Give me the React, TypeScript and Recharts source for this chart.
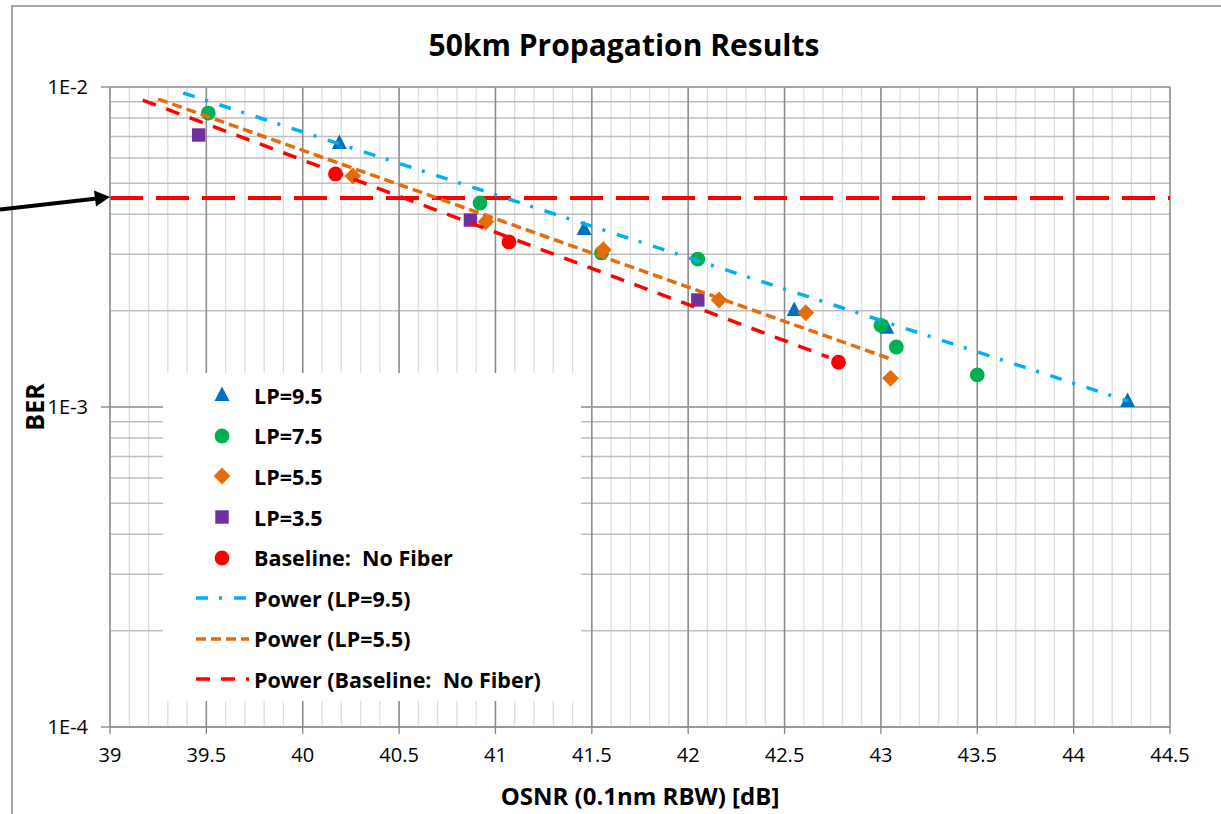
import React from 'react';
import {
  ScatterChart,
  Scatter,
  XAxis,
  YAxis,
  CartesianGrid,
  ReferenceLine,
  Legend,
} from 'recharts';

const FONT = '"Open Sans", Lato, sans-serif';

// measured points (OSNR dB, BER)
const lp95 = [
  { x: 40.19, y: 6.68e-3 },
  { x: 41.46, y: 3.6e-3 },
  { x: 42.55, y: 2.01e-3 },
  { x: 43.03, y: 1.77e-3 },
  { x: 44.28, y: 1.045e-3 },
];
const lp75 = [
  { x: 39.51, y: 8.29e-3 },
  { x: 40.92, y: 4.34e-3 },
  { x: 41.55, y: 3.03e-3 },
  { x: 42.05, y: 2.9e-3 },
  { x: 43.0, y: 1.8e-3 },
  { x: 43.08, y: 1.54e-3 },
  { x: 43.5, y: 1.26e-3 },
];
const lp55 = [
  { x: 40.26, y: 5.27e-3 },
  { x: 40.95, y: 3.79e-3 },
  { x: 41.56, y: 3.1e-3 },
  { x: 42.16, y: 2.16e-3 },
  { x: 42.61, y: 1.97e-3 },
  { x: 43.05, y: 1.23e-3 },
];
const lp35 = [
  { x: 39.46, y: 7.08e-3 },
  { x: 40.87, y: 3.84e-3 },
  { x: 42.05, y: 2.16e-3 },
];
const baseline = [
  { x: 40.17, y: 5.35e-3 },
  { x: 41.07, y: 3.28e-3 },
  { x: 42.78, y: 1.38e-3 },
];

// power trendline end points
const trendLp95 = [
  { x: 39.38, y: 9.58e-3 },
  { x: 44.28, y: 1.045e-3 },
];
const trendLp55 = [
  { x: 39.25, y: 9.17e-3 },
  { x: 43.04, y: 1.42e-3 },
];
const trendBaseline = [
  { x: 39.17, y: 9.1e-3 },
  { x: 42.73, y: 1.43e-3 },
];

const berThreshold = 4.5e-3;

const xMajorTicks = [39, 39.5, 40, 40.5, 41, 41.5, 42, 42.5, 43, 43.5, 44, 44.5];
const xTicks = Array.from({ length: 56 }, (_, i) => Math.round((39 + i * 0.1) * 10) / 10);
const yTicks = [
  1e-4, 2e-4, 3e-4, 4e-4, 5e-4, 6e-4, 7e-4, 8e-4, 9e-4,
  1e-3, 2e-3, 3e-3, 4e-3, 5e-3, 6e-3, 7e-3, 8e-3, 9e-3, 1e-2,
];
const yMajorTicks = [1e-3, 1e-2];

const BLUE = '#0070C0';
const GREEN = '#00B050';
const ORANGE = '#E46C0A';
const PURPLE = '#7030A0';
const RED = '#FF0000';
const SKY = '#00B0F0';

const DASH_BLUE = '12 11 3 12';
const DASH_ORANGE = '10 5';
const DASH_RED = '14 11';

type Kind = 'triangle' | 'circle' | 'diamond' | 'square';

const markerPath = (kind: Kind, cx: number, cy: number, color: string) => {
  if (kind === 'circle') return <circle cx={cx} cy={cy} r={7.4} fill={color} />;
  if (kind === 'square') return <rect x={cx - 6.7} y={cy - 6.7} width={13.4} height={13.4} fill={color} />;
  if (kind === 'diamond')
    return (
      <polygon
        points={`${cx},${cy - 8.5} ${cx + 8.3},${cy} ${cx},${cy + 8.5} ${cx - 8.3},${cy}`}
        fill={color}
      />
    );
  return (
    <polygon
      points={`${cx},${cy - 8.5} ${cx + 7.5},${cy + 6} ${cx - 7.5},${cy + 6}`}
      fill={color}
    />
  );
};

const makeShape = (kind: Kind, color: string) => (props: any) =>
  markerPath(kind, props.cx, props.cy, color);

const noShape = () => <g />;

const XTick = (props: any) => {
  const { x, y, payload } = props;
  const v = payload.value;
  if (Math.abs(v * 2 - Math.round(v * 2)) > 1e-6) return <g />;
  return (
    <g>
      <line x1={x} x2={x} y1={y} y2={y + 7} stroke="#868686" strokeWidth={1.3} />
      <text x={x} y={y + 35} textAnchor="middle" fontSize={20} fontFamily={FONT} fill="#000">
        {v}
      </text>
    </g>
  );
};

const YTick = (props: any) => {
  const { x, y, payload } = props;
  const lg = Math.log10(payload.value);
  if (Math.abs(lg - Math.round(lg)) > 1e-6) return <g />;
  return (
    <g>
      <line x1={x - 9} x2={x} y1={y} y2={y} stroke="#868686" strokeWidth={1.3} />
      <text x={x - 22} y={y + 7} textAnchor="end" fontSize={20} fontFamily={FONT} fill="#000">
        {`1E${Math.round(lg)}`}
      </text>
    </g>
  );
};

const legendItems: { label: string; kind?: Kind; color: string; dash?: string }[] = [
  { label: 'LP=9.5', kind: 'triangle', color: BLUE },
  { label: 'LP=7.5', kind: 'circle', color: GREEN },
  { label: 'LP=5.5', kind: 'diamond', color: ORANGE },
  { label: 'LP=3.5', kind: 'square', color: PURPLE },
  { label: 'Baseline:  No Fiber', kind: 'circle', color: RED },
  { label: 'Power (LP=9.5)', color: SKY, dash: DASH_BLUE },
  { label: 'Power (LP=5.5)', color: ORANGE, dash: DASH_ORANGE },
  { label: 'Power (Baseline:  No Fiber)', color: RED, dash: DASH_RED },
];

const LegendBox = () => (
  <div style={{ paddingTop: 2 }}>
    {legendItems.map((item) => (
      <div key={item.label} style={{ height: 40.6, display: 'flex', alignItems: 'center' }}>
        <svg width={58} height={20} style={{ marginLeft: 33 }}>
          {item.kind ? (
            markerPath(item.kind, 26, 10, item.color)
          ) : (
            <line
              x1={0}
              x2={53}
              y1={10}
              y2={10}
              stroke={item.color}
              strokeWidth={3.5}
              strokeDasharray={item.dash}
            />
          )}
        </svg>
        <span
          style={{
            fontFamily: FONT,
            fontWeight: 700,
            fontSize: 21.5,
            color: '#000',
            whiteSpace: 'pre',
          }}
        >
          {item.label}
        </span>
      </div>
    ))}
  </div>
);

export default function App() {
  return (
    <div
      style={{
        position: 'absolute',
        left: 0,
        top: 0,
        width: 1221,
        height: 814,
        overflow: 'hidden',
        background: '#fff',
      }}
    >
      <div
        style={{
          position: 'absolute',
          left: 11,
          top: 5,
          width: 1400,
          height: 1000,
          border: '2px solid #A6A6A6',
        }}
      />
      <div
        style={{
          position: 'absolute',
          left: 624,
          top: 25,
          transform: 'translateX(-50%)',
          fontFamily: FONT,
          fontWeight: 700,
          fontSize: 30,
          lineHeight: '40px',
          whiteSpace: 'nowrap',
          color: '#000',
        }}
      >
        50km Propagation Results
      </div>
      <div style={{ position: 'absolute', left: 0, top: 0 }}>
        <ScatterChart
          width={1221}
          height={814}
          margin={{ top: 87, right: 51, bottom: 17, left: 30 }}
        >
          <CartesianGrid horizontal={false} stroke="#DEDEDE" strokeWidth={1.3} />
          <CartesianGrid vertical={false} stroke="#BFBFBF" strokeWidth={1.5} />
          {xMajorTicks.slice(1).map((v) => (
            <ReferenceLine key={`mx${v}`} x={v} stroke="#8C8C8C" strokeWidth={1.5} zIndex={-50} />
          ))}
          {yMajorTicks.map((v) => (
            <ReferenceLine key={`my${v}`} y={v} stroke="#9A9A9A" strokeWidth={1.5} zIndex={-50} />
          ))}
          <XAxis
            type="number"
            dataKey="x"
            domain={[39, 44.5]}
            ticks={xTicks}
            interval={0}
            allowDataOverflow
            height={70}
            tickSize={0}
            tickMargin={0}
            tickLine={false}
            tick={<XTick />}
            axisLine={{ stroke: '#868686', strokeWidth: 1.5 }}
            label={{
              value: 'OSNR (0.1nm RBW) [dB]',
              position: 'insideBottom',
              offset: -8,
              style: { fontFamily: FONT, fontWeight: 700, fontSize: 24, fill: '#000' },
            }}
          />
          <YAxis
            type="number"
            dataKey="y"
            scale="log"
            domain={[1e-4, 1e-2]}
            ticks={yTicks}
            interval={0}
            allowDataOverflow
            width={80}
            tickSize={0}
            tickMargin={0}
            tickLine={false}
            tick={<YTick />}
            axisLine={{ stroke: '#868686', strokeWidth: 1.5 }}
            label={{
              value: 'BER',
              angle: -90,
              position: 'insideLeft',
              offset: 5,
              style: {
                fontFamily: FONT,
                fontWeight: 700,
                fontSize: 25,
                fill: '#000',
                textAnchor: 'middle',
              },
            }}
          />
          <ReferenceLine
            y={berThreshold}
            stroke={RED}
            strokeWidth={4}
            strokeDasharray="33 13"
          />
          <Scatter name="LP=9.5" data={lp95} shape={makeShape('triangle', BLUE)} isAnimationActive={false} />
          <Scatter name="LP=7.5" data={lp75} shape={makeShape('circle', GREEN)} isAnimationActive={false} />
          <Scatter name="LP=5.5" data={lp55} shape={makeShape('diamond', ORANGE)} isAnimationActive={false} />
          <Scatter name="LP=3.5" data={lp35} shape={makeShape('square', PURPLE)} isAnimationActive={false} />
          <Scatter
            name="Baseline:  No Fiber"
            data={baseline}
            shape={makeShape('circle', RED)}
            isAnimationActive={false}
          />
          <Scatter
            name="Power (LP=9.5)"
            data={trendLp95}
            shape={noShape}
            line={{ stroke: SKY, strokeWidth: 3.5, strokeDasharray: DASH_BLUE }}
            isAnimationActive={false}
          />
          <Scatter
            name="Power (LP=5.5)"
            data={trendLp55}
            shape={noShape}
            line={{ stroke: ORANGE, strokeWidth: 3.5, strokeDasharray: DASH_ORANGE }}
            isAnimationActive={false}
          />
          <Scatter
            name="Power (Baseline:  No Fiber)"
            data={trendBaseline}
            shape={noShape}
            line={{ stroke: RED, strokeWidth: 3.5, strokeDasharray: DASH_RED }}
            isAnimationActive={false}
          />
          <Legend
            layout="vertical"
            align="center"
            verticalAlign="middle"
            content={() => <LegendBox />}
            wrapperStyle={{
              left: 163,
              top: 373,
              width: 418,
              height: 328,
              background: '#fff',
            }}
          />
        </ScatterChart>
      </div>
      <svg
        width={130}
        height={240}
        style={{ position: 'absolute', left: 0, top: 0 }}
      >
        <line x1={0} y1={209.5} x2={97} y2={198.6} stroke="#000" strokeWidth={4} />
        <polygon points="110,197 94,190.5 96,206.5" fill="#000" />
      </svg>
    </div>
  );
}
